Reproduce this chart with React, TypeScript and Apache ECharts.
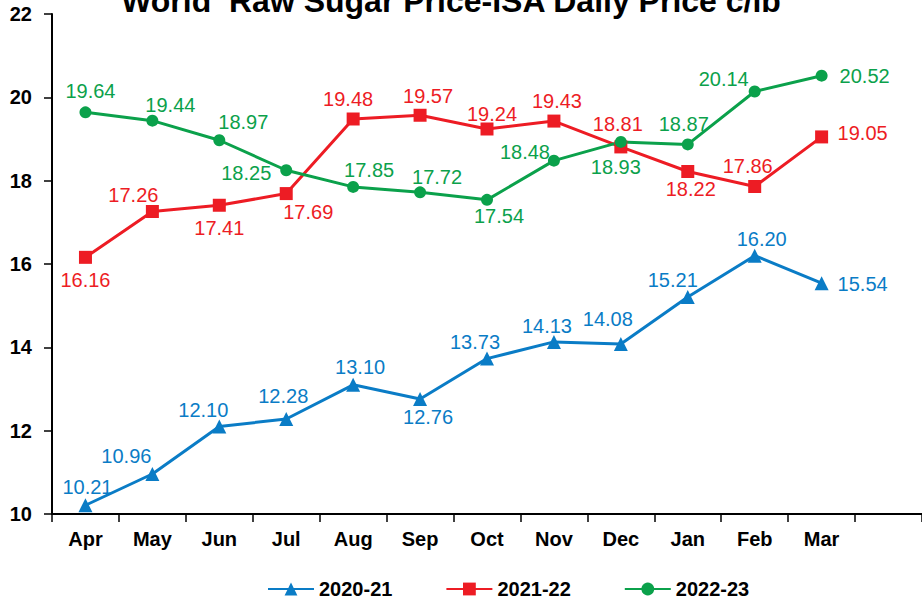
import React, { useEffect, useRef } from 'react';
import * as echarts from 'echarts';

const months = ['Apr', 'May', 'Jun', 'Jul', 'Aug', 'Sep', 'Oct', 'Nov', 'Dec', 'Jan', 'Feb', 'Mar', ''];
const names = ['2020-21', '2021-22', '2022-23'];
const v2020 = [10.21, 10.96, 12.1, 12.28, 13.1, 12.76, 13.73, 14.13, 14.08, 15.21, 16.2, 15.54];
const v2021 = [16.16, 17.26, 17.41, 17.69, 19.48, 19.57, 19.24, 19.43, 18.81, 18.22, 17.86, 19.05];
const v2022 = [19.64, 19.44, 18.97, 18.25, 17.85, 17.72, 17.54, 18.48, 18.93, 18.87, 20.14, 20.52];

// label offsets (px) relative to each point
const off2020 = [[2, -18], [-26, -18], [-16, -17], [-3, -23], [7, -18], [8, 18], [-12, -17], [-7, -16], [-13, -25], [-15, -17], [7, -17], [41, 1]];
const off2021 = [[0, 23], [-19, -17], [0, 23], [22, 18], [-5, -20], [8, -19], [5, -15], [3, -20], [-3, -23], [3, 17], [-7, -21], [41, -4]];
const off2022 = [[5, -21], [18, -16], [24, -18], [-40, 3], [16, -17], [17, -15], [12, 16], [-29, -9], [-5, 25], [-4, -20], [-31, -13], [43, 0]];

const colors = ['#0A7CC6', '#ED1C24', '#0BA14B'];
const FONT = '"Liberation Sans", Arial, sans-serif';

function makeSeries(name: string, values: number[], offs: number[][], color: string, symbol: string, size: number) {
  return {
    name,
    type: 'line',
    data: values.map((v, i) => ({
      value: v,
      label: { show: true, position: 'inside', offset: offs[i] },
    })),
    symbol,
    symbolSize: size,
    lineStyle: { color, width: 3 },
    itemStyle: { color },
    label: {
      show: true,
      formatter: (p: any) => p.value.toFixed(2),
      color,
      fontSize: 20,
      fontFamily: FONT,
      align: 'center',
      verticalAlign: 'middle',
    },
  };
}

export default function App() {
  const ref = useRef<HTMLDivElement>(null);
  useEffect(() => {
    if (!ref.current) return;
    const chart = echarts.init(ref.current, null, { renderer: 'svg' });
    chart.setOption({
      animation: false,
      backgroundColor: '#ffffff',
      color: colors,
      graphic: [
        {
          type: 'text',
          x: 451,
          y: 1,
          style: {
            text: 'World  Raw Sugar Price-ISA Daily Price c/lb',
            fontSize: 32,
            fontWeight: 'bold',
            fontFamily: FONT,
            fill: '#000',
            align: 'center',
            verticalAlign: 'middle',
          },
        },
      ],
      legend: {
        left: 262,
        top: 574,
        itemWidth: 46,
        itemHeight: 16,
        itemGap: 53,
        textStyle: { fontSize: 20, fontWeight: 'bold', fontFamily: FONT, color: '#000' },
        data: names,
      },
      grid: { left: 52, width: 874, top: 14, height: 500, containLabel: false },
      xAxis: {
        type: 'category',
        data: months,
        boundaryGap: true,
        axisLine: { lineStyle: { color: '#000', width: 2 } },
        axisTick: { show: true, interval: 0, length: 8, lineStyle: { color: '#000', width: 1.5 } },
        axisLabel: { interval: 0, margin: 15, fontSize: 20, fontWeight: 'bold', fontFamily: FONT, color: '#000' },
        splitLine: { show: false },
      },
      yAxis: {
        type: 'value',
        min: 10,
        max: 22,
        interval: 2,
        axisLine: { show: true, lineStyle: { color: '#000', width: 2 } },
        axisTick: { show: true, length: 8, lineStyle: { color: '#000', width: 1.5 } },
        axisLabel: { margin: 20, fontSize: 20, fontWeight: 'bold', fontFamily: FONT, color: '#000' },
        splitLine: { show: false },
      },
      series: [
        makeSeries(names[0], v2020, off2020, colors[0], 'triangle', 14),
        makeSeries(names[1], v2021, off2021, colors[1], 'rect', 13),
        makeSeries(names[2], v2022, off2022, colors[2], 'circle', 12),
      ],
    });
    return () => chart.dispose();
  }, []);
  return <div ref={ref} style={{ position: 'absolute', left: 0, top: 0, width: 922, height: 601 }} />;
}
